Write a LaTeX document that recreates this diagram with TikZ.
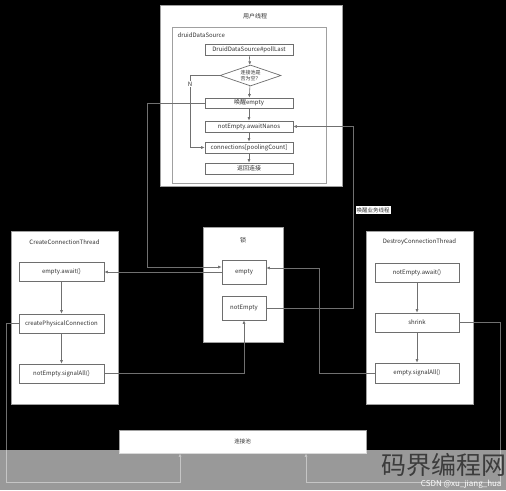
\documentclass[tikz,border=0pt]{standalone}
\usepackage{fontspec}
\setmainfont{Noto Sans CJK SC}
\newfontfamily\wmfont{Noto Sans CJK SC}
\usetikzlibrary{calc, shapes.geometric, arrows.meta}
\definecolor{linegray}{HTML}{707070}
\definecolor{nodegray}{HTML}{6E6E6E}
\definecolor{panelgray}{HTML}{A0A0A0}
\definecolor{txtgray}{HTML}{333333}
\definecolor{wmgray}{HTML}{3C3C3C}

\begin{document}
\begin{tikzpicture}[x=1pt, y=-1pt,
    font=\fontsize{6}{7}\selectfont, text=txtgray,
    panel/.style={draw=panelgray, fill=white, line width=0.8pt, inner sep=0pt},
    act/.style={draw=nodegray, fill=white, line width=0.7pt, inner sep=0pt},
    wire/.style={draw=linegray, line width=0.6pt},
    arr/.style={wire, -{Latex[length=3.5pt,width=3pt]}}]
    \useasboundingbox (0,0) rectangle (506,490);
    \fill[black] (0,0) rectangle (506,490); % fundo preto

    % thread do usuario
    \node[panel, minimum width=182pt, minimum height=181pt] (user) at (251,95.5) {};
    \node (usertitle) at (255,16) {用户线程};
    \node[panel, minimum width=154pt, minimum height=156pt] (dds) at (249,105) {};
    \node[anchor=west] (ddstitle) at (174,35) {druidDataSource};
    \node[act, minimum width=88pt, minimum height=11pt] (poll) at (249,49.5) {DruidDataSource\#pollLast};
    \node[diamond, draw=nodegray, fill=white, line width=0.7pt, inner sep=0pt, aspect=2.9,
          minimum width=61pt, minimum height=21pt, align=center,
          font=\fontsize{5}{6}\selectfont] (isempty) at (250.5,75.5) {连接池是\\否为空？};
    \node[act, minimum width=88pt, minimum height=10pt] (wake) at (249,103) {唤醒empty};
    \node[act, minimum width=88pt, minimum height=11pt] (awaitn) at (249,126.5) {notEmpty.awaitNanos};
    \node[act, minimum width=88pt, minimum height=11pt] (conns) at (249,147.5) {connections[poolingCount]};
    \node[act, minimum width=88pt, minimum height=11pt] (ret) at (249,168.5) {返回连接};

    % lock
    \node[panel, minimum width=80pt, minimum height=115pt] (lock) at (243,284.5) {};
    \node (locktitle) at (243,240) {锁};
    \node[act, minimum width=44pt, minimum height=24pt] (lempty) at (244,272) {empty};
    \node[act, minimum width=44pt, minimum height=24pt] (lnotempty) at (244,308) {notEmpty};

    % CreateConnectionThread
    \node[panel, minimum width=107pt, minimum height=173pt] (create) at (64.5,317.5) {};
    \node (createtitle) at (64.5,242) {CreateConnectionThread};
    \node[act, minimum width=85pt, minimum height=19pt] (eawait) at (61.5,272) {empty.await()};
    \node[act, minimum width=85pt, minimum height=19pt] (cpc) at (61.5,323.5) {createPhysicalConnection};
    \node[act, minimum width=85pt, minimum height=19pt] (nesig) at (61.5,373.5) {notEmpty.signalAll()};

    % DestroyConnectionThread
    \node[panel, minimum width=107pt, minimum height=173pt] (destroy) at (419.5,317.5) {};
    \node (destroytitle) at (419.5,242) {DestroyConnectionThread};
    \node[act, minimum width=84pt, minimum height=19pt] (neawait) at (417,272.5) {notEmpty.await()};
    \node[act, minimum width=84pt, minimum height=19pt] (shrink) at (417,322.5) {shrink};
    \node[act, minimum width=84pt, minimum height=20pt] (esig) at (417,373) {empty.signalAll()};

    % pool
    \node[panel, minimum width=247pt, minimum height=23pt, font=\fontsize{5.5}{6}\selectfont] (pool) at (242.5,441.5) {连接池};

    % fluxo interno
    \draw[arr] (poll) -- (isempty);
    \draw[arr] (isempty) -- (wake);
    \draw[arr] (wake) -- (awaitn);
    \draw[arr] (awaitn) -- (conns);
    \draw[arr] (conns) -- (ret);
    \draw[arr] (isempty.west) -- ++(-29.5,0) coordinate (nbend) |- (conns.west);
    \node[fill=white, inner sep=0.5pt] (nlbl) at ([yshift=-8.5]nbend) {N};
    \draw[arr] (eawait) -- (cpc);
    \draw[arr] (cpc) -- (nesig);
    \draw[arr] (neawait) -- (shrink);
    \draw[arr] (shrink) -- (esig);

    % ligacoes com o lock
    \draw[arr] (wake.west) -- ++(-57,0) |- ([yshift=5]lempty.west);
    \draw[arr] (lempty.west) -- (eawait.east);
    \draw[arr] (esig.west) -- ++(-55,0) |- ([yshift=4]lempty.east);
    \draw[arr] (lnotempty.east) -- ++(87,0) |- (awaitn.east);
    \node[fill=white, inner sep=1pt, font=\fontsize{5.5}{6}\selectfont] (wakelbl) at (373,210) {唤醒业务线程};
    \draw[arr] (nesig.east) -| (lnotempty.south);

    % ligacoes com o pool
    \draw[arr] (cpc.west) -- ++(-12,0) -- ++(0,158.5) -| ([xshift=-62.5]pool.south);
    \draw[arr] (shrink.east) -- ++(41,0) -- ++(0,159.5) -| ([xshift=63.5]pool.south);

    % marca d'agua
    \fill[white, opacity=0.6] (0,450) rectangle (506,490);
    \node[anchor=west, text=wmgray, font=\wmfont\fontsize{25}{25}\selectfont] (wmlogo) at (378,465) {码界编程网};
    \node[anchor=east, text=white, font=\fontsize{8}{8}\selectfont] (wmcsdn) at (505,484) {CSDN @xu\_jiang\_hua};
\end{tikzpicture}
\end{document}
